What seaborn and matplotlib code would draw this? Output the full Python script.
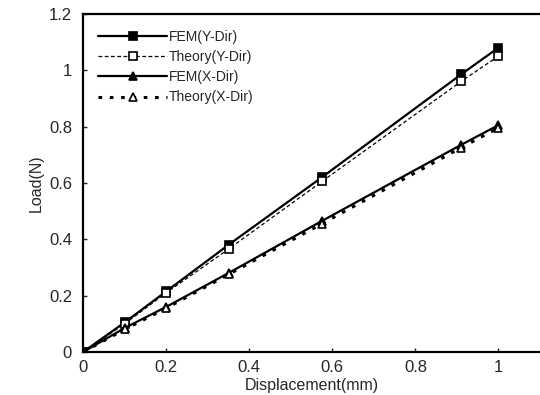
import matplotlib
matplotlib.use("Agg")
import matplotlib.pyplot as plt
import seaborn as sns
import pandas as pd

sns.set_style("ticks")
plt.rcParams['font.family'] = ['Liberation Sans', 'DejaVu Sans']

displacement = [0, 0.1, 0.2, 0.35, 0.575, 0.91, 1.0]
fem_y = [0, 0.105, 0.215, 0.38, 0.62, 0.985, 1.08]
theory_y = [0, 0.10, 0.21, 0.365, 0.605, 0.96, 1.05]
fem_x = [0, 0.085, 0.16, 0.28, 0.465, 0.735, 0.805]
theory_x = [0, 0.08, 0.155, 0.275, 0.455, 0.725, 0.795]
series_names = ["FEM(Y-Dir)", "Theory(Y-Dir)", "FEM(X-Dir)", "Theory(X-Dir)"]
x_ticks = [0, 0.2, 0.4, 0.6, 0.8, 1]
y_ticks = [0, 0.2, 0.4, 0.6, 0.8, 1.0, 1.2]

fig = plt.figure(figsize=(5.4, 3.95), dpi=100)
ax = fig.add_axes([0.154, 0.109, 0.846, 0.856])

styles = [
    dict(linestyle='-', linewidth=1.6, marker='s', markersize=6, markerfacecolor='black'),
    dict(linestyle=(0, (3, 2)), linewidth=0.9, marker='s', markersize=6, markerfacecolor='white'),
    dict(linestyle='-', linewidth=1.6, marker='^', markersize=6, markerfacecolor='black'),
    dict(linestyle=(0, (1.2, 2.5)), linewidth=2.2, marker='^', markersize=6, markerfacecolor='white'),
]
for name, vals, st in zip(series_names, [fem_y, theory_y, fem_x, theory_x], styles):
    df = pd.DataFrame({"x": displacement, "y": vals})
    sns.lineplot(data=df, x="x", y="y", ax=ax, color='black', markeredgecolor='black',
                 markeredgewidth=1.2, label=name, **st)

ax.set_xlim(0, 1.1)
ax.set_ylim(0, 1.2)
ax.set_xticks(x_ticks)
ax.set_xticklabels(["0", "0.2", "0.4", "0.6", "0.8", "1"])
ax.set_yticks(y_ticks)
ax.set_yticklabels(["0", "0.2", "0.4", "0.6", "0.8", "1", "1.2"])
ax.tick_params(direction='in', length=3, labelsize=12, width=1)
ax.tick_params(axis='x', pad=6)
ax.tick_params(axis='y', pad=8)
ax.set_xlabel("Displacement(mm)", fontsize=11.5, labelpad=2)
ax.set_ylabel("Load(N)", fontsize=11.5, labelpad=4)
for s in ax.spines.values():
    s.set_linewidth(1.6)
    s.set_color('black')
ax.spines['right'].set_visible(False)

leg = ax.legend(loc='upper left', bbox_to_anchor=(0.005, 0.99), frameon=False, fontsize=10,
                handlelength=5.0, handletextpad=0.1, labelspacing=0.45)

fig.savefig("out.png", dpi=100)
